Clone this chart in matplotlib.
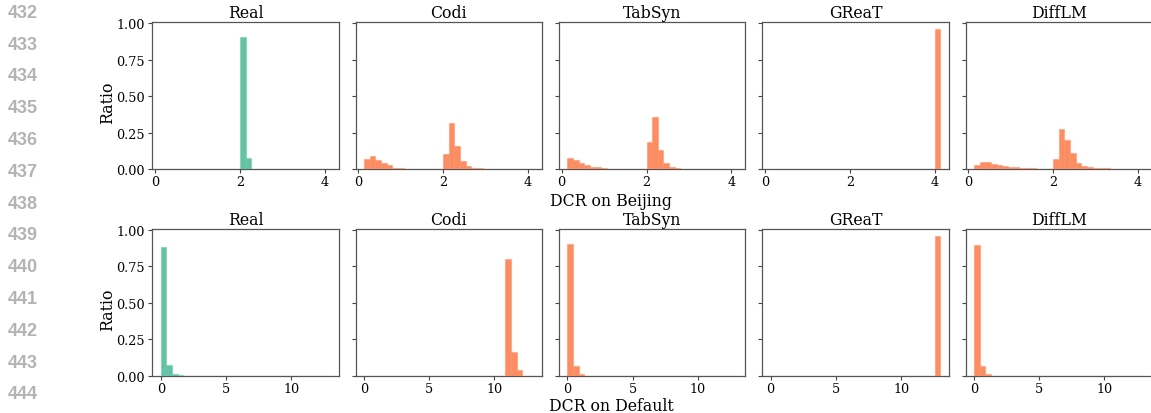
"""DCR histograms: Real vs synthetic models on Beijing and Default."""

import numpy as np
import matplotlib
matplotlib.use("Agg")
import matplotlib.pyplot as plt
from matplotlib.colors import to_rgba

MODELS = ["Real", "Codi", "TabSyn", "GReaT", "DiffLM"]

# bin edges of the DCR histograms (30 bins per dataset)
BEIJING_EDGES = [0.136, 0.269, 0.402, 0.535, 0.669, 0.802, 0.935, 1.068, 1.201, 1.334,
                 1.467, 1.600, 1.734, 1.867, 2.000, 2.133, 2.266, 2.399, 2.532, 2.665,
                 2.799, 2.932, 3.065, 3.198, 3.331, 3.464, 3.597, 3.730, 3.864, 3.997, 4.130]
DEFAULT_EDGES = [0.0, 0.433, 0.867, 1.300, 1.733, 2.167, 2.600, 3.033, 3.467, 3.900,
                 4.333, 4.767, 5.200, 5.633, 6.067, 6.500, 6.933, 7.367, 7.800, 8.233,
                 8.667, 9.100, 9.533, 9.967, 10.400, 10.833, 11.267, 11.700, 12.133, 12.567, 13.0]

# ratio per bin, Beijing
BEIJING_REAL = [0, 0, 0, 0, 0, 0, 0, 0, 0, 0, 0, 0, 0, 0.003, 0.910, 0.080, 0.004, 0.001,
                0, 0, 0, 0, 0, 0, 0, 0, 0, 0, 0, 0]
BEIJING_CODI = [0.068, 0.089, 0.062, 0.043, 0.027, 0.012, 0.006, 0.004, 0.003, 0.002,
                0.002, 0.002, 0.002, 0.002, 0.105, 0.315, 0.160, 0.055, 0.020, 0.012,
                0.006, 0.004, 0.003, 0.002, 0.002, 0.001, 0.001, 0.001, 0.001, 0.0]
BEIJING_TABSYN = [0.075, 0.064, 0.045, 0.030, 0.016, 0.015, 0.007, 0.005, 0.004, 0.003,
                  0.002, 0.002, 0.002, 0.002, 0.187, 0.358, 0.132, 0.043, 0.016, 0.007,
                  0.004, 0.002, 0.002, 0.001, 0.001, 0.001, 0.0, 0.0, 0.0, 0.0]
BEIJING_GREAT = [0, 0, 0, 0, 0, 0, 0, 0, 0, 0, 0, 0, 0, 0, 0.001, 0.001, 0, 0,
                 0, 0, 0, 0, 0, 0, 0, 0, 0, 0, 0.002, 0.960]
BEIJING_DIFFLM = [0.027, 0.048, 0.048, 0.038, 0.030, 0.023, 0.016, 0.015, 0.010, 0.008,
                  0.006, 0.005, 0.005, 0.004, 0.068, 0.274, 0.200, 0.110, 0.043, 0.020,
                  0.016, 0.011, 0.007, 0.006, 0.004, 0.003, 0.002, 0.002, 0.002, 0.001]

# ratio per bin, Default
DEFAULT_REAL = [0.880, 0.073, 0.012, 0.004, 0.002, 0.001, 0.001, 0, 0, 0,
                0, 0, 0, 0, 0, 0, 0, 0, 0, 0, 0, 0, 0, 0, 0, 0, 0, 0, 0, 0]
DEFAULT_CODI = [0, 0, 0, 0, 0, 0, 0, 0, 0, 0, 0, 0, 0, 0, 0, 0, 0, 0, 0, 0,
                0, 0, 0, 0, 0.002, 0.800, 0.162, 0.041, 0.003, 0.001]
DEFAULT_TABSYN = [0.902, 0.066, 0.011, 0.003, 0.001, 0.001, 0, 0, 0, 0,
                  0, 0, 0, 0, 0, 0, 0, 0, 0, 0, 0, 0, 0, 0, 0, 0, 0, 0, 0, 0]
DEFAULT_GREAT = [0, 0, 0, 0, 0, 0, 0, 0, 0, 0, 0, 0, 0, 0, 0, 0, 0, 0, 0, 0,
                 0, 0, 0, 0, 0, 0, 0, 0, 0.002, 0.957]
DEFAULT_DIFFLM = [0.897, 0.066, 0.011, 0.003, 0.001, 0.001, 0, 0, 0, 0,
                  0, 0, 0, 0, 0, 0, 0, 0, 0, 0, 0, 0, 0, 0, 0, 0, 0, 0, 0, 0]

ROWS = [
    ("DCR on Beijing", BEIJING_EDGES,
     [BEIJING_REAL, BEIJING_CODI, BEIJING_TABSYN, BEIJING_GREAT, BEIJING_DIFFLM],
     [0, 2, 4]),
    ("DCR on Default", DEFAULT_EDGES,
     [DEFAULT_REAL, DEFAULT_CODI, DEFAULT_TABSYN, DEFAULT_GREAT, DEFAULT_DIFFLM],
     [0, 5, 10]),
]

LINE_NUMBERS = list(range(432, 445))

REAL_COLOR = "#66c2a5"
SYN_COLOR = "#fc8d62"

plt.rcParams["font.family"] = "DejaVu Serif"

W, H = 1151, 414
fig = plt.figure(figsize=(W / 100, H / 100), dpi=100)

# axes geometry in pixels
LEFT0, PITCH, AX_W = 152.3, 203.3, 186.5
ROW_TOPS = [23.3, 230.0]
AX_H = 147.0
LABEL_BASELINES = [206.3, 411.5]

for r, (xlabel, edges, series, xticks) in enumerate(ROWS):
    edges = np.asarray(edges)
    widths = np.diff(edges)
    first = None
    for c, (name, vals) in enumerate(zip(MODELS, series)):
        left = LEFT0 + c * PITCH
        ax = fig.add_axes([left / W, (H - ROW_TOPS[r] - AX_H) / H, AX_W / W, AX_H / H],
                          sharey=first)
        if first is None:
            first = ax
        color = REAL_COLOR if name == "Real" else SYN_COLOR
        ax.bar(edges[:-1], vals, width=widths, align="edge",
               color=color, edgecolor=to_rgba(color, 0.45), linewidth=0.9, zorder=3)
        ax.set_title(name, fontsize=11.3, pad=3.6)
        ax.set_xticks(xticks)
        ax.set_yticks([0, 0.25, 0.5, 0.75, 1.0])
        ax.tick_params(labelsize=9.2, length=2.6, width=0.8, color="#444444")
        ax.tick_params(axis="x", pad=1.8)
        ax.tick_params(axis="y", pad=2.7)
        for sp in ax.spines.values():
            sp.set_color("#555555")
            sp.set_linewidth(0.9)
        if c == 0:
            ax.set_yticklabels(["0.00", "0.25", "0.50", "0.75", "1.00"])
            ax.set_ylabel("Ratio", fontsize=11.3)
            ax.yaxis.set_label_coords(-0.193, 0.46)
        else:
            ax.tick_params(labelleft=False)
    fig.text(611 / W, 1 - LABEL_BASELINES[r] / H, xlabel, ha="center", va="baseline",
             fontsize=11.3)

# page line numbers
for k, num in enumerate(LINE_NUMBERS):
    y = 13.3 + k * 31.8
    fig.text(23 / W, 1 - y / H, str(num), ha="center", va="center",
             fontsize=13, fontweight="bold", color="#b3b3b3", family="Liberation Sans")

fig.savefig("out.png", dpi=100)
